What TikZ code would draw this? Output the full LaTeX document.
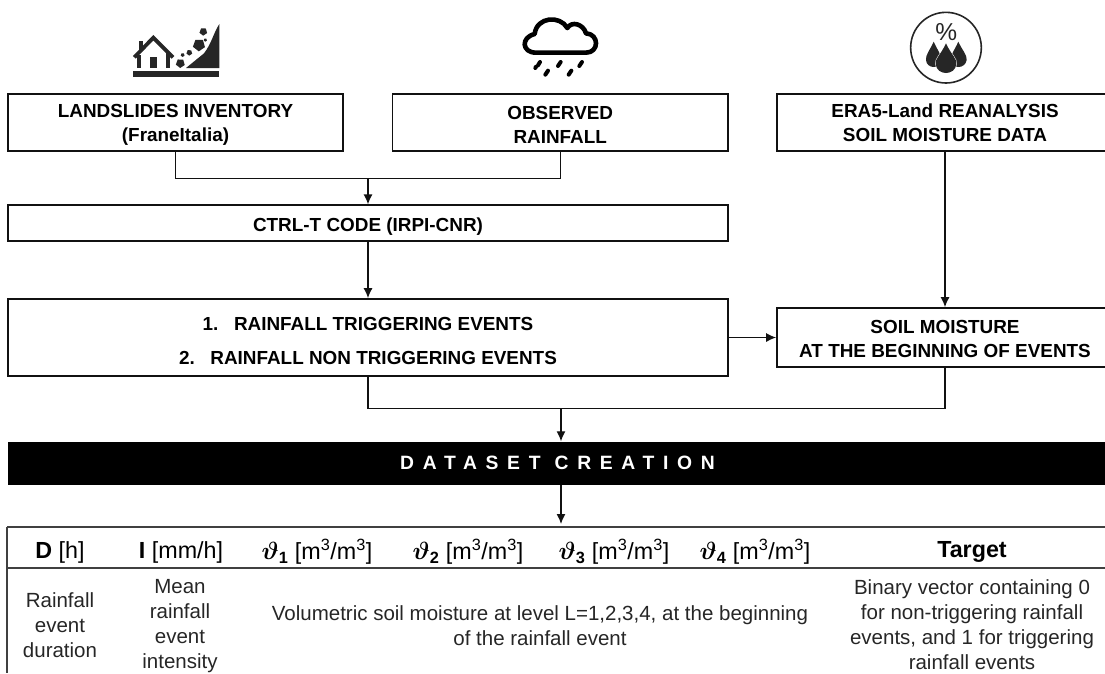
\documentclass[tikz,border=0pt]{standalone}
\usepackage{amsmath,bm}
\usepackage{fontspec}
\setmainfont{Liberation Sans}
\newfontfamily\spacedfont[LetterSpace=45]{Liberation Sans}
\usetikzlibrary{arrows.meta}
\definecolor{inkc}{HTML}{111111}
\definecolor{iconc}{HTML}{262626}
\newcommand{\rockfill}[3]{\fill[iconc,shift={(#1,#2)}] (20:#3) -- (92:#3) -- (164:#3) -- (236:#3) -- (308:#3) -- cycle;}
\newcommand{\mybold}{\fontsize{18.9}{24}\selectfont\bfseries}
\newcommand{\mytext}{\fontsize{20.5}{24.8}\selectfont}
\newcommand{\myhead}{\fontsize{23.3}{26}\selectfont}
\newcommand{\toppad}[1]{\rule{0pt}{#1pt}}
\newcommand{\thetah}[1]{$\bm{\vartheta}_{\mathbf{#1}}$ [m\textsuperscript{3}/m\textsuperscript{3}]}
\tikzset{
  boxn/.style={draw=inkc,line width=1.7pt,inner sep=0pt,align=center,font=\mybold},
  cell/.style={inner sep=0pt,align=center,font=\mytext,text=black!85},
  head/.style={inner sep=0pt,align=center,font=\myhead,text=black},
  conn/.style={draw=inkc,line width=1.3pt},
  arr/.style={conn,-{Latex[length=10pt,width=9pt]}},
  rule/.style={draw=black!75,line width=1.4pt}
}
\begin{document}
\begin{tikzpicture}[x=1pt,y=-1pt]
\useasboundingbox (0,0) rectangle (1105,673);
\clip (0,0) rectangle (1105,673);
% boxes
\node[boxn,minimum width=335.5pt,minimum height=57.5pt] (b1) at (175.5,122.5) {\toppad{18}LANDSLIDES INVENTORY\\(FraneItalia)};
\node[boxn,minimum width=335.5pt,minimum height=57.5pt] (b2) at (560.25,122.5) {\toppad{18}OBSERVED\\RAINFALL};
\node[boxn,minimum width=336pt,minimum height=57.5pt] (b3) at (945,122.5) {\toppad{14}ERA5-Land REANALYSIS\\SOIL MOISTURE DATA};
\node[boxn,minimum width=720.5pt,minimum height=35.5pt] (ctrl) at (368,223) {\toppad{20}CTRL-T CODE (IRPI-CNR)};
\node[boxn,minimum width=720.5pt,minimum height=77pt] (tri) at (368,337.5) {\toppad{21}1.\hspace{15.5pt}RAINFALL TRIGGERING EVENTS\\[10pt]2.\hspace{15.5pt}RAINFALL NON TRIGGERING EVENTS};
\node[boxn,minimum width=336pt,minimum height=59pt] (soil) at (945,337.5) {\toppad{16}SOIL MOISTURE\\AT THE BEGINNING OF EVENTS};
\node[fill=black,minimum width=1099pt,minimum height=43pt,inner sep=0pt,text=white,font=\fontsize{19.3}{22}\selectfont\spacedfont\bfseries] (bar) at (557.5,463) {DATASET CREATION};
% connectors
\coordinate (j1) at (368,178.3);
\coordinate (j2) at (561,408.7);
\coordinate (tab) at (561,524);
\draw[conn] (b1.south) |- (j1);
\draw[conn] (b2.south) |- (j1);
\draw[arr] (j1) -- (ctrl.north);
\draw[arr] (ctrl.south) -- (tri.north);
\draw[arr] (b3.south) -- (soil.north);
\draw[arr] (tri.east) -- (soil.west);
\draw[conn] (tri.south) |- (j2);
\draw[conn] (soil.south) |- (j2);
\draw[arr] (j2) -- (bar.north -| j2);
\draw[arr] (bar.south -| tab) -- (tab);
% table
\coordinate (tl) at (7,527);
\coordinate (tr) at (1105,527);
\coordinate (ml) at (7,568);
\coordinate (mr) at (1105,568);
\coordinate (bl) at (7,673);
\draw[rule] (tl) -- (tr);
\draw[rule] (ml) -- (mr);
\draw[rule] (tl) -- (bl);
\node[head] (h1) at (60,552) {\textbf{D} [h]};
\node[head] (h2) at (181,552) {\textbf{I} [mm/h]};
\node[head] (h3) at (317,552) {\thetah{1}};
\node[head] (h4) at (468,552) {\thetah{2}};
\node[head] (h5) at (614,552) {\thetah{3}};
\node[head] (h6) at (755,552) {\thetah{4}};
\node[head] (h7) at (972,552) {\textbf{Target}};
\node[cell] (c1) at (60,625) {Rainfall\\event\\duration};
\node[cell] (c2) at (180,626) {Mean\\rainfall\\event\\intensity};
\node[cell] (c3) at (540,625.7) {Volumetric soil moisture at level L=1,2,3,4, at the beginning\\of the rainfall event};
\node[cell] (c4) at (972,624.5) {Binary vector containing 0\\for non-triggering rainfall\\events, and 1 for triggering\\rainfall events};
% landslide icon
\begin{scope}[shift={(100,0)},scale=1/3]
  \fill[iconc] (99,213) rectangle (358,231);
  \fill[iconc] (258,204) -- (312,160) .. controls (335,130) and (340,100) .. (358,72) -- (358,204) -- cycle;
  \draw[iconc,line width=3.8pt,line join=miter] (103,172) -- (160,113) -- (219,172);
  \fill[iconc] (112,165) rectangle (124,205);
  \fill[iconc] (197,160) rectangle (209,205);
  \fill[iconc] (116,122) rectangle (128,150);
  \fill[iconc] (150,170) rectangle (172,205);
  \rockfill{310}{95}{12}
  \rockfill{297}{135}{19}
  \rockfill{241}{190}{14}
  \rockfill{268}{158}{9}
  \rockfill{248}{165}{6}
  \rockfill{316}{120}{5}
\end{scope}
% cloud icon
\begin{scope}[shift={(500,0)},scale=1/3]
  \draw[black,line width=4.6pt,line join=round]
    (108,158) -- (258,158)
    .. controls (298,158) and (298,102) .. (258,100)
    .. controls (250,72) and (215,62) .. (202,84)
    .. controls (180,45) and (110,50) .. (104,102)
    .. controls (62,112) and (65,158) .. (108,158) -- cycle;
  \foreach \a/\b/\c/\d in {120/186/114/196,108/200/106/204,182/186/174/198,246/186/238/198,144/212/136/224,214/212/206/224}
    \draw[black,line width=4pt,line cap=round] (\a,\b) -- (\c,\d);
\end{scope}
% moisture icon
\begin{scope}[shift={(500,0)},scale=1/3]
  \coordinate (mc) at (1338,143);
  \draw[iconc,line width=1.6pt] (mc) circle (106);
  \node[inner sep=0pt,text=iconc,font=\fontsize{24.5}{24.5}\selectfont] (pct) at (1339,95) {\%};
  \fill[iconc] (1301,125) .. controls (1290,150) and (1276,165) .. (1278,180) .. controls (1280,208) and (1322,208) .. (1325,180) .. controls (1325,165) and (1312,150) .. (1301,125) -- cycle;
  \fill[iconc] (1375,125) .. controls (1364,150) and (1351,165) .. (1351,180) .. controls (1354,208) and (1396,208) .. (1400,180) .. controls (1402,165) and (1386,150) .. (1375,125) -- cycle;
  \draw[white,line width=1pt] (1338,130) .. controls (1322,165) and (1305,175) .. (1307,192) .. controls (1310,228) and (1366,228) .. (1369,192) .. controls (1371,175) and (1354,165) .. (1338,130) -- cycle;
  \fill[iconc] (1338,130) .. controls (1322,165) and (1305,175) .. (1307,192) .. controls (1310,228) and (1366,228) .. (1369,192) .. controls (1371,175) and (1354,165) .. (1338,130) -- cycle;
\end{scope}
\end{tikzpicture}
\end{document}
